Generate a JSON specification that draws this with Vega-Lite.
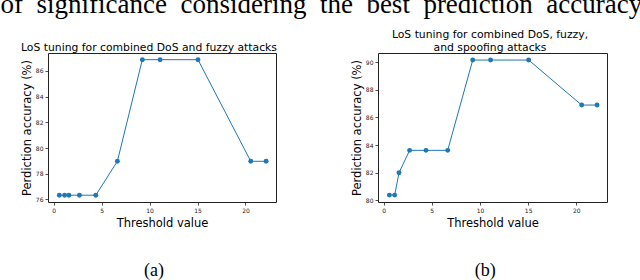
{
  "$schema": "https://vega.github.io/schema/vega-lite/v6.json",
  "background": "white",
  "padding": {"left": 0, "top": -9, "right": 0, "bottom": 0},
  "title": {
    "text": "of\u00a0\u00a0significance\u00a0\u00a0considering\u00a0\u00a0the\u00a0\u00a0best\u00a0\u00a0prediction\u00a0\u00a0accuracy",
    "anchor": "start",
    "frame": "bounds",
    "font": "Liberation Serif",
    "fontSize": 27,
    "fontWeight": "normal",
    "color": "black",
    "offset": 9,
    "dx": -20
  },
  "datasets": {
    "a": [
      {"threshold": 0.6, "accuracy": 76.33},
      {"threshold": 1.15, "accuracy": 76.33},
      {"threshold": 1.6, "accuracy": 76.33},
      {"threshold": 2.7, "accuracy": 76.33},
      {"threshold": 4.4, "accuracy": 76.33},
      {"threshold": 6.65, "accuracy": 78.97},
      {"threshold": 9.25, "accuracy": 86.88},
      {"threshold": 11.1, "accuracy": 86.88},
      {"threshold": 15.05, "accuracy": 86.88},
      {"threshold": 20.55, "accuracy": 78.97},
      {"threshold": 22.15, "accuracy": 78.97}
    ],
    "b": [
      {"threshold": 0.6, "accuracy": 80.38},
      {"threshold": 1.15, "accuracy": 80.38},
      {"threshold": 1.6, "accuracy": 82.0},
      {"threshold": 2.7, "accuracy": 83.62},
      {"threshold": 4.4, "accuracy": 83.62},
      {"threshold": 6.65, "accuracy": 83.62},
      {"threshold": 9.25, "accuracy": 90.16},
      {"threshold": 11.1, "accuracy": 90.16},
      {"threshold": 15.05, "accuracy": 90.16},
      {"threshold": 20.55, "accuracy": 86.9},
      {"threshold": 22.15, "accuracy": 86.9}
    ]
  },
  "spacing": 72,
  "hconcat": [
    {
      "title": {"text": "(a)", "orient": "bottom", "anchor": "middle", "font": "Liberation Serif", "fontSize": 18, "fontWeight": "normal", "color": "black", "offset": 33, "dx": 5},
      "vconcat": [
        {
          "width": 228,
          "height": 149,
          "title": {"text": ["\u00a0", "LoS tuning for combined DoS and fuzzy attacks"], "anchor": "middle", "frame": "group", "dx": -13, "offset": 0, "font": "DejaVu Sans", "fontSize": 10.8, "fontWeight": "normal", "lineHeight": 13.5, "color": "black"},
          "data": {"name": "a"},
          "encoding": {
            "x": {"field": "threshold", "type": "quantitative", "scale": {"domain": [-0.58, 23.18], "nice": false, "zero": false}, "axis": {"values": [0, 5, 10, 15, 20], "title": "Threshold value"}},
            "y": {"field": "accuracy", "type": "quantitative", "scale": {"domain": [75.8, 87.4], "nice": false, "zero": false}, "axis": {"values": [76, 78, 80, 82, 84, 86], "title": "Perdiction accuracy (%)"}}
          },
          "layer": [
            {"mark": {"type": "line", "color": "#1f77b4", "strokeWidth": 1}, "encoding": {}},
            {"mark": {"type": "point", "filled": true, "opacity": 1, "size": 24, "color": "#1f77b4"}, "encoding": {}}
          ]
        }
      ]
    },
    {
      "title": {"text": "(b)", "orient": "bottom", "anchor": "middle", "font": "Liberation Serif", "fontSize": 18, "fontWeight": "normal", "color": "black", "offset": 33, "dx": 6},
      "vconcat": [
        {
          "width": 229,
          "height": 149,
          "title": {"text": ["LoS tuning for combined DoS, fuzzy,", "and spoofing attacks"], "anchor": "middle", "frame": "group", "dx": -2.5, "offset": 0, "font": "DejaVu Sans", "fontSize": 10.8, "fontWeight": "normal", "lineHeight": 13.5, "color": "black"},
          "data": {"name": "b"},
          "encoding": {
            "x": {"field": "threshold", "type": "quantitative", "scale": {"domain": [-0.58, 23.18], "nice": false, "zero": false}, "axis": {"values": [0, 5, 10, 15, 20], "title": "Threshold value"}},
            "y": {"field": "accuracy", "type": "quantitative", "scale": {"domain": [79.88, 90.67], "nice": false, "zero": false}, "axis": {"values": [80, 82, 84, 86, 88, 90], "title": "Perdiction accuracy (%)"}}
          },
          "layer": [
            {"mark": {"type": "line", "color": "#1f77b4", "strokeWidth": 1}, "encoding": {}},
            {"mark": {"type": "point", "filled": true, "opacity": 1, "size": 24, "color": "#1f77b4"}, "encoding": {}}
          ]
        }
      ]
    }
  ],
  "config": {
    "view": {"stroke": "#222", "strokeWidth": 1},
    "axis": {"grid": false, "domain": false, "tickColor": "#222", "tickSize": 3, "tickWidth": 0.8, "labelFont": "DejaVu Sans", "labelFontSize": 6, "labelColor": "#222", "labelPadding": 2, "titleFont": "DejaVu Sans", "titleFontSize": 11.5, "titleFontWeight": "normal", "titleColor": "black"},
    "axisX": {"titlePadding": 4},
    "axisY": {"titlePadding": 3}
  }
}
